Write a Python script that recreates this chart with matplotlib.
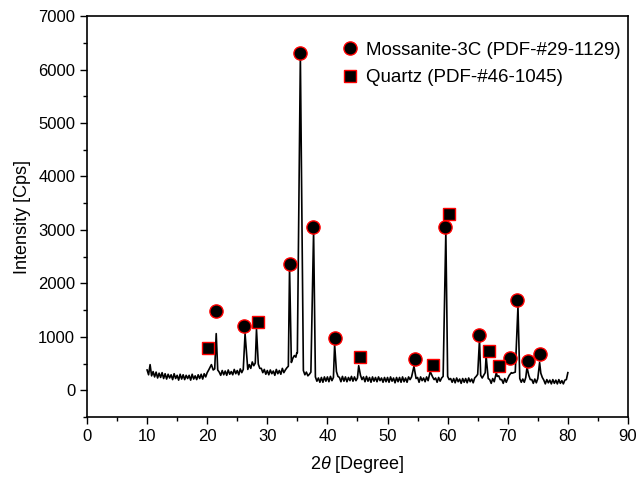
import numpy as np
import matplotlib
matplotlib.use("Agg")
import matplotlib.pyplot as plt

plt.rcParams['font.family'] = ['Liberation Sans', 'DejaVu Sans']
plt.rcParams['mathtext.fontset'] = 'custom'
plt.rcParams['mathtext.rm'] = 'Liberation Sans'
plt.rcParams['mathtext.it'] = 'Liberation Sans:italic'

# background of the pattern, read every 0.25 deg from 10 to 80
base_start, base_step = 10.0, 0.25
baseline = [
    380, 290, 480, 270, 350, 250, 340, 230, 320, 240, 330, 220,
    310, 210, 300, 230, 290, 200, 310, 220, 280, 190, 300, 210,
    290, 200, 280, 220, 280, 190, 300, 210, 270, 200, 290, 220,
    300, 210, 310, 250,
    330, 380, 450, 420, 380, 400, 420, 380, 340, 280, 370, 290,
    360, 280, 380, 300, 350, 290, 390, 310, 370, 290, 400, 330,
    390, 340, 430, 390, 480, 410, 530, 460, 510, 440, 490, 410,
    410, 330, 390, 300,
    370, 290, 380, 310, 360, 280, 390, 310, 370, 300, 410, 330,
    380, 420, 450, 500, 520, 600, 560, 620, 700, 650, 600, 450,
    370, 290, 340, 270, 300, 340, 360, 400, 250, 170, 230, 150,
    240, 150, 250, 170,
    250, 160, 260, 180, 240, 300, 350, 260, 240, 160, 260, 170,
    250, 160, 240, 180, 260, 170, 250, 180, 230, 260, 280, 200,
    250, 160, 260, 170, 240, 150, 250, 170, 240, 160, 250, 180,
    230, 150, 240, 160,
    240, 150, 250, 170, 230, 140, 240, 160, 240, 150, 250, 160,
    230, 150, 250, 200, 250, 280, 300, 220, 240, 150, 250, 180,
    230, 160, 250, 180, 240, 270, 250, 200, 230, 150, 240, 170,
    230, 260, 330, 300,
    260, 200, 220, 150, 220, 140, 230, 160, 210, 130, 220, 150,
    220, 140, 230, 160, 210, 140, 230, 260, 300, 350, 280, 230,
    280, 330, 300, 220, 200, 130, 220, 160, 200, 260, 270, 200,
    200, 130, 220, 150,
    220, 280, 330, 320, 330, 340, 360, 300, 220, 150, 210, 150,
    240, 300, 280, 200, 200, 130, 210, 140, 220, 280, 320, 240,
    190, 120, 200, 140, 190, 120, 200, 130, 190, 120, 200, 130,
    180, 120, 190, 200,
    330,
]

# diffraction peaks: position, top intensity, half width at the base
peak_pos = [20.7, 21.5, 26.3, 28.2, 33.7, 34.5, 34.9, 35.5, 37.7, 41.2,
            45.2, 54.4, 57.1, 59.7, 65.3, 66.4, 68.1, 70.6, 71.7, 73.2, 75.3]
peak_top = [480, 1060, 1060, 1140, 2300, 650, 700, 6250, 2980, 860,
            460, 450, 350, 2970, 950, 640, 330, 330, 1570, 430, 520]
peak_hw = [0.2, 0.25, 0.2, 0.15, 0.2, 0.1, 0.1, 0.3, 0.25, 0.2,
           0.15, 0.15, 0.15, 0.25, 0.2, 0.15, 0.15, 0.15, 0.25, 0.2, 0.2]

# phase markers
sic_2t = [21.5, 26.2, 33.7, 35.4, 37.6, 41.2, 54.5, 59.5, 65.3, 70.4, 71.6, 73.3, 75.4]
sic_i = [1490, 1200, 2370, 6310, 3060, 970, 580, 3060, 1030, 600, 1680, 540, 670]
qz_2t = [20.1, 28.4, 45.4, 57.5, 60.2, 66.9, 68.6]
qz_i = [800, 1270, 620, 466, 3300, 730, 450]

base_x = base_start + base_step * np.arange(len(baseline))
keep = np.ones(len(baseline), dtype=bool)
for p, w in zip(peak_pos, peak_hw):
    keep &= np.abs(base_x - p) >= w
xs = np.concatenate([base_x[keep], peak_pos])
ys = np.concatenate([np.array(baseline)[keep], peak_top])
order = np.argsort(xs)
xs, ys = xs[order], ys[order]

fig = plt.figure(figsize=(6.4, 4.83), dpi=100)
ax = fig.add_axes([0.1359, 0.1366, 0.8453, 0.8302])

ax.plot(xs, ys, color='black', lw=1.2)
ax.plot(sic_2t, sic_i, 'o', ms=9.5, mfc='black', mec='red', mew=1.0,
        ls='none', label='Mossanite-3C (PDF-#29-1129)')
ax.plot(qz_2t, qz_i, 's', ms=8, mfc='black', mec='red', mew=1.0,
        ls='none', label='Quartz (PDF-#46-1045)')

ax.set_xlim(0, 90)
ax.set_ylim(-500, 7000)
ax.set_xticks(np.arange(0, 91, 10))
ax.set_xticks(np.arange(5, 90, 10), minor=True)
ax.set_yticks(np.arange(0, 7001, 1000))
ax.set_yticks(np.arange(-500, 7000, 1000), minor=True)
ax.tick_params(which='both', direction='out', top=False, right=False,
               labelsize=12, width=1.0)
ax.tick_params(which='major', length=5)
ax.tick_params(which='minor', length=3)
for s in ax.spines.values():
    s.set_linewidth(1.2)

ax.set_xlabel(r'2$\it{\theta}$ [Degree]', fontsize=13, labelpad=7)
ax.set_ylabel('Intensity [Cps]', fontsize=13, labelpad=5)

ax.legend(loc='upper left', bbox_to_anchor=(0.458, 0.955), frameon=False,
          fontsize=13.5, handlelength=0.8, handletextpad=0.45,
          labelspacing=0.55, borderaxespad=0)

fig.savefig('out.png', dpi=100)
